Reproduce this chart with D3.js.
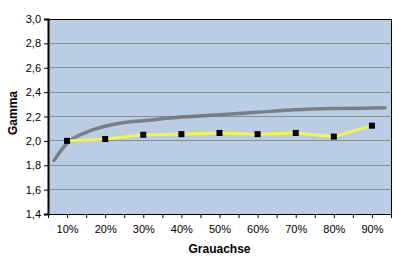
<!DOCTYPE html>
<html>
<head>
<meta charset="utf-8">
<script src="https://cdn.jsdelivr.net/npm/d3@7"></script>
<style>
  body { margin: 0; background: #fff; }
  text { font-family: Arial, "Liberation Sans", sans-serif; }
</style>
</head>
<body>
<svg id="chart" width="399" height="267"></svg>
<script>
// data
const categories = [10, 20, 30, 40, 50, 60, 70, 80, 90];
const gammaValues = [2.0, 2.015, 2.05, 2.055, 2.065, 2.055, 2.065, 2.035, 2.125];
const refX = [6.6, 10, 15, 20, 25, 30, 40, 50, 60, 70, 80, 90, 93.4];
const refY = [1.84, 1.98, 2.07, 2.12, 2.15, 2.165, 2.195, 2.215, 2.235, 2.255, 2.265, 2.27, 2.272];
const yTicks = [1.4, 1.6, 1.8, 2.0, 2.2, 2.4, 2.6, 2.8, 3.0];

const svg = d3.select('#chart');
const m = {left: 48, top: 19, right: 8, bottom: 53};
const W = 399 - m.left - m.right, H = 267 - m.top - m.bottom;

const x = d3.scaleLinear().domain([5, 95]).range([0, W]);
const y = d3.scaleLinear().domain([1.4, 3.0]).range([H, 0]);
const fmt = v => d3.format('.1f')(v).replace('.', ',');

const g = svg.append('g').attr('transform', `translate(${m.left},${m.top})`);

g.append('rect').attr('width', W).attr('height', H).attr('fill', '#b9cde5');

// vertical grid every half category
const halfSteps = d3.range(10, 95, 5);
g.selectAll('.vg').data(halfSteps).join('line')
    .attr('x1', d => x(d)).attr('x2', d => x(d))
    .attr('y1', 0).attr('y2', H)
    .attr('stroke', '#c4c8cc').attr('stroke-width', 1)
    .attr('shape-rendering', 'crispEdges');

g.selectAll('.hg').data(yTicks.slice(1, -1)).join('line')
    .attr('x1', 0).attr('x2', W)
    .attr('y1', d => y(d)).attr('y2', d => y(d))
    .attr('stroke', '#8a8d90').attr('stroke-width', 1)
    .attr('shape-rendering', 'crispEdges');

// frame
g.append('rect').attr('width', W).attr('height', H)
    .attr('fill', 'none').attr('stroke', '#000').attr('stroke-width', 1)
    .attr('shape-rendering', 'crispEdges');

// y axis
const yAxis = g.append('g').call(d3.axisLeft(y).tickValues(yTicks).tickFormat(fmt).tickSize(4).tickPadding(3));
yAxis.select('.domain').attr('stroke-width', 2);
yAxis.selectAll('text').attr('font-size', 11).attr('fill', '#000');

// x axis
const xAxis = g.append('g').attr('transform', `translate(0,${H})`)
    .call(d3.axisBottom(x).tickValues(d3.range(5, 96, 5)).tickSize(4).tickPadding(7)
        .tickFormat(d => d % 10 === 0 ? d + '%' : ''));
xAxis.selectAll('text').attr('font-size', 11).attr('fill', '#000');

// reference curve (grey)
const line = d3.line().x(d => x(d[0])).y(d => y(d[1])).curve(d3.curveMonotoneX);
g.append('path').datum(d3.zip(refX, refY))
    .attr('d', line).attr('fill', 'none')
    .attr('stroke', '#6e7074').attr('stroke-width', 3.5).attr('stroke-opacity', 0.85)
    .attr('stroke-linecap', 'round');

// measured gamma (yellow)
const pts = d3.zip(categories, gammaValues);
g.append('path').datum(pts)
    .attr('d', d3.line().x(d => x(d[0])).y(d => y(d[1])))
    .attr('fill', 'none').attr('stroke', '#f2f25a').attr('stroke-width', 3);

g.selectAll('.mk').data(pts).join('rect')
    .attr('x', d => x(d[0]) - 3).attr('y', d => y(d[1]) - 3)
    .attr('width', 6).attr('height', 6).attr('fill', '#000');

// titles
svg.append('text').attr('x', m.left + W / 2).attr('y', 253)
    .attr('text-anchor', 'middle').attr('font-size', 12).attr('font-weight', 'bold')
    .text('Grauachse');
svg.append('text').attr('transform', 'translate(17,113) rotate(-90)')
    .attr('text-anchor', 'middle').attr('font-size', 12).attr('font-weight', 'bold')
    .text('Gamma');
</script>
</body>
</html>
